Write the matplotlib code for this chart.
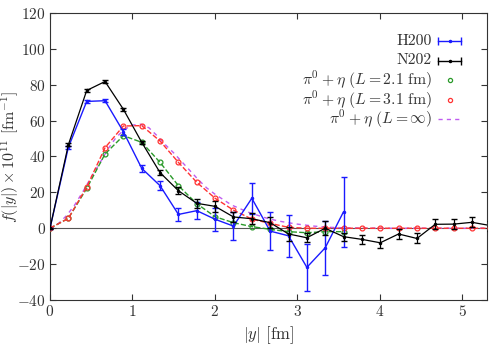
import numpy as np
import matplotlib
matplotlib.use("Agg")
import matplotlib.pyplot as plt

plt.rcParams['font.family'] = 'serif'
plt.rcParams['font.serif'] = ['cmr10', 'DejaVu Serif']
plt.rcParams['mathtext.fontset'] = 'cm'
plt.rcParams['axes.formatter.use_mathtext'] = True
plt.rcParams['font.size'] = 11

# ==== DATA ====
spacing = 0.2225

h200_val = [0, 45.1, 70.7, 71.1, 53.8, 33.4, 23.7, 7.7, 9.8, 5.0, 1.2,
            16.7, -1.6, -4.2, -21.8, -10.9, 9.2]
h200_err = [0.3, 1.0, 1.0, 1.0, 1.8, 2.0, 2.5, 3.4, 4.6, 6.5, 8.0,
            8.7, 10.6, 11.6, 13.0, 15.0, 19.5]

n202_val = [0, 46.5, 76.8, 81.8, 66.3, 47.9, 31.0, 20.9, 13.9, 12.2, 6.3,
            5.3, 3.1, -3.2, -5.3, 0.0, -4.7, -6.2, -8.1, -3.2, -5.7,
            2.2, 2.3, 3.3, 1.5]
n202_err = [0.3, 0.8, 0.8, 0.8, 1.0, 1.0, 1.5, 2.0, 2.5, 3.0, 3.0,
            3.0, 3.2, 4.0, 2.5, 4.0, 2.2, 2.7, 3.0, 2.8, 2.8,
            2.8, 2.8, 2.8, 2.8]

l21_val = [0, 5.5, 22.2, 41.4, 51.6, 47.9, 36.7, 23.7, 13.7, 6.4, 3.1,
           0.9, -0.6, -1.9, -2.5, -1.9, -1.9]

l31_val = [0, 5.5, 23.0, 44.9, 57.0, 57.2, 48.6, 36.7, 25.6, 16.7, 10.1,
           5.1, 2.7, 0.5, 0, 0, 0, 0, 0, 0, 0, 0, 0, 0, 0]

linf_x = [0, 0.1, 0.2, 0.3, 0.4, 0.5, 0.6, 0.7, 0.8, 0.9, 1.0, 1.1, 1.2,
          1.3, 1.4, 1.5, 1.6, 1.7, 1.8, 1.9, 2.0, 2.1, 2.2, 2.3, 2.4, 2.5,
          2.6, 2.7, 2.8, 2.9, 3.0, 3.2, 3.4, 3.6, 3.8, 4.0, 4.5, 5.0, 5.3]
linf_val = [0, 2.5, 7, 13, 20.5, 28.5, 36, 44, 50.5, 55, 57.5, 58, 56,
            51.5, 46.5, 42, 37, 32, 27, 22.5, 19, 16, 13, 11, 9, 7.5,
            6, 4.8, 3.8, 3, 2.3, 1.2, 0.5, 0.2, 0.1, 0, 0, 0, 0]

legend_labels = ['H200', 'N202', r'$\pi^0+\eta\ (L=2.1\ \mathrm{fm})$',
                 r'$\pi^0+\eta\ (L=3.1\ \mathrm{fm})$', r'$\pi^0+\eta\ (L=\infty)$']

def grid_x(vals):
    return np.arange(len(vals)) * spacing

# ==== PLOT ====
W, H = 499, 349
fig = plt.figure(figsize=(W / 100, H / 100), dpi=100)
ax = fig.add_axes([0.1002, 0.1404, 0.8758, 0.8224])

txt = '#333333'
blue = '#1a1aff'
green = '#2a9a2a'
red = '#ff3333'
violet = '#c05cf0'

ax.axhline(0, color='#555555', lw=0.8, zorder=1)

ax.errorbar(grid_x(h200_val), h200_val, yerr=h200_err, color=blue,
            marker='.', ms=3, lw=1, capsize=2.5, elinewidth=1, zorder=4)
ax.errorbar(grid_x(n202_val), n202_val, yerr=n202_err, color='black',
            marker='.', ms=3, lw=0.9, capsize=2.5, elinewidth=0.9, zorder=5)

ax.plot(grid_x(l21_val), l21_val, ls='--', color=green, lw=1, zorder=3)
ax.plot(grid_x(l21_val), l21_val, ls='none', marker='o', ms=3.5, mfc='none',
        mec=green, mew=0.9, zorder=3)
ax.plot(grid_x(l31_val), l31_val, ls='--', color=red, lw=1, zorder=3)
ax.plot(grid_x(l31_val), l31_val, ls='none', marker='o', ms=3.5, mfc='none',
        mec=red, mew=0.9, zorder=3)
ax.plot(linf_x, linf_val, ls=(0, (3, 3)), color=violet, lw=1, zorder=2)

ax.set_xlim(0, 5.3)
ax.set_ylim(-40, 120)
ax.set_xticks([0, 1, 2, 3, 4, 5])
ax.set_yticks(range(-40, 121, 20))
ax.tick_params(direction='in', top=True, right=True, length=4, colors=txt,
               labelsize=11, pad=3)
for s in ax.spines.values():
    s.set_color(txt)

ax.set_xlabel(r'$|y|$ [fm]', fontsize=12, color=txt, labelpad=4)
ax.set_ylabel(r'$f(|y|)\times 10^{11}$ [fm$^{-1}$]', fontsize=11.5, color=txt)
ax.yaxis.set_label_coords(-0.066, 0.5)

# ==== LEGEND (handles on the right, labels right-aligned) ====
row_y = [40.7, 60.5, 80.0, 99.8, 119.3]   # pixel rows from top
text_x, h_left, h_right = 432, 438, 461
tf = fig.transFigure

def fx(px):
    return px / W

def fy(py):
    return 1 - py / H

for lab, py in zip(legend_labels, row_y):
    fig.text(fx(text_x), fy(py), lab, ha='right', va='center', fontsize=11.3, color=txt)

for c, py in zip([blue, 'black'], row_y[:2]):
    ax.plot([fx(h_left), fx(h_right)], [fy(py)] * 2, color=c, lw=1,
            marker='|', ms=6, mew=1, transform=tf, clip_on=False)
    ax.plot([fx((h_left + h_right) / 2)], [fy(py)], color=c, marker='.', ms=3,
            transform=tf, clip_on=False)

for c, py in zip([green, red], row_y[2:4]):
    ax.plot([fx((h_left + h_right) / 2)], [fy(py)], ls='none', marker='o', ms=3,
            mfc='none', mec=c, mew=0.9, transform=tf, clip_on=False)

ax.plot([fx(h_left), fx(h_right)], [fy(row_y[4])] * 2, ls=(0, (3, 3)), color=violet,
        lw=1, transform=tf, clip_on=False)

fig.savefig('out.png', dpi=100)
